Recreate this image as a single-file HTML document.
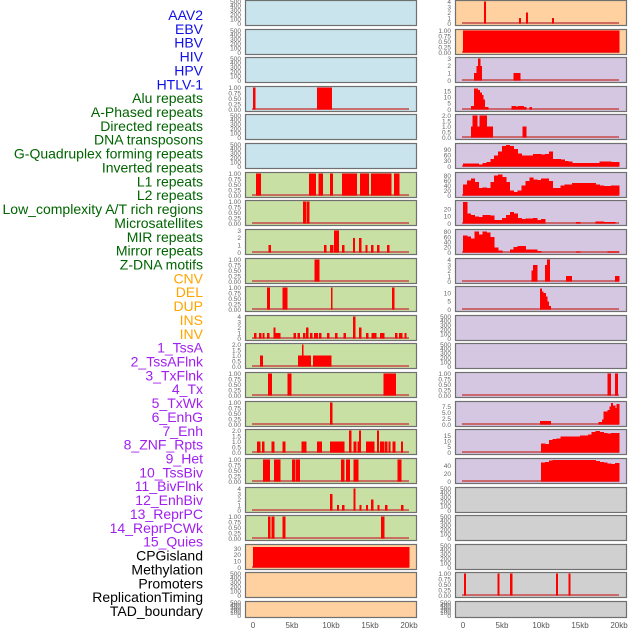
<!DOCTYPE html>
<html><head><meta charset="utf-8"><style>
html,body{margin:0;padding:0;background:#fff;width:630px;height:630px;overflow:hidden}
svg{display:block;font-family:"Liberation Sans",sans-serif}
</style></head><body>
<svg id="chart" width="630" height="630" viewBox="0 0 630 630" xmlns="http://www.w3.org/2000/svg"></svg>
<script>
// ---- data ----
const trackLabels=["AAV2","EBV","HBV","HIV","HPV","HTLV-1","Alu repeats","A-Phased repeats","Directed repeats","DNA transposons","G-Quadruplex forming repeats","Inverted repeats","L1 repeats","L2 repeats","Low_complexity A/T rich regions","Microsatellites","MIR repeats","Mirror repeats","Z-DNA motifs","CNV","DEL","DUP","INS","INV","1_TssA","2_TssAFlnk","3_TxFlnk","4_Tx","5_TxWk","6_EnhG","7_Enh","8_ZNF_Rpts","9_Het","10_TssBiv","11_BivFlnk","12_EnhBiv","13_ReprPC","14_ReprPCWk","15_Quies","CPGisland","Methylation","Promoters","ReplicationTiming","TAD_boundary"];
const labelColors=["#1010e8","#1010e8","#1010e8","#1010e8","#1010e8","#1010e8","#006400","#006400","#006400","#006400","#006400","#006400","#006400","#006400","#006400","#006400","#006400","#006400","#006400","#ffa500","#ffa500","#ffa500","#ffa500","#ffa500","#a020f0","#a020f0","#a020f0","#a020f0","#a020f0","#a020f0","#a020f0","#a020f0","#a020f0","#a020f0","#a020f0","#a020f0","#a020f0","#a020f0","#a020f0","#000","#000","#000","#000","#000"];
const xTickValues=[0,5,10,15,20];
const xTickLabels=["0","5kb","10kb","15kb","20kb"];
const E=[0,100,200,300,400,500], U=[0,0.25,0.5,0.75,1];
const leftTicks=[E,E,E,U,E,E,U,U,[0,1,2,3],U,U,[0,1,2,3,4],[0,0.5,1,1.5,2],U,U,[0,0.5,1,1.5,2],U,[0,1,2,3,4],U,[0,10,20,30],E,E];
const leftMax=[500,500,500,1,500,500,1,1,3,1,1,4,2,1,1,2,1,4,1,35,500,500];
const leftSegs=[[],[],[],
[[0,0.3,1],[8.2,10.1,1]],[],[],
[[0.4,1.0,1],[7.2,8.0,1],[8.4,8.9,1],[9.9,10.2,1],[11.4,12.1,1],[12.2,13.3,1],[13.7,14.8,1],[15.1,17.7,1],[18.1,18.7,1]],
[[6.4,6.8,1],[6.9,7.2,1]],
[[2.0,2.25,1],[9.1,9.35,1],[9.9,10.3,1],[10.4,11.0,3],[11.4,11.7,1],[12.8,13.05,2],[13.6,13.85,2],[14.4,14.65,1],[15.1,15.4,1],[15.9,16.15,1],[17.2,17.45,1]],
[[7.9,8.5,1]],
[[1.8,2.1,1],[3.8,4.4,1],[10.0,10.15,1],[17.8,18.1,1]],
[[0.15,0.4,1],[0.8,1.05,1],[1.2,1.45,1],[1.8,2.05,1],[2.6,2.85,2],[2.8,3.5,1],[5.2,5.45,1],[5.7,5.95,1],[6.4,6.65,1],[6.8,7.05,2],[7.3,7.55,1],[7.8,8.3,1],[8.45,8.7,1],[9.5,9.75,1],[10.5,10.75,1],[11.6,11.85,1],[12.8,13.1,4],[13.6,13.85,2],[14.5,14.75,1],[15.2,15.45,1],[15.5,15.75,1],[16.3,16.8,1],[18.2,18.45,1],[18.7,19.1,1],[19.4,19.65,1]],
[[0.9,1.2,1],[5.8,7.4,1],[6.3,6.45,2],[7.7,8.5,1],[8.5,10.0,1]],
[[1.9,2.4,1],[4.4,4.9,1],[16.7,18.3,1]],
[[9.9,10.15,1]],
[[0.5,0.9,1],[1.15,1.4,1],[2.4,2.7,1],[3.8,4.1,1],[6.2,6.4,1],[6.5,6.8,1],[8.2,8.8,1],[9.9,11.7,1],[12.3,12.6,2],[12.9,13.2,1],[13.4,13.8,1],[13.6,13.8,2],[14.5,15.5,1],[15.9,16.1,2],[16.3,16.8,1],[16.9,17.2,1],[17.4,17.6,1],[17.9,18.2,1],[19.0,19.2,1]],
[[1.3,2.1,1],[2.7,3.5,1],[5.0,5.4,1],[5.5,6.0,1],[11.3,11.7,1],[11.9,12.4,1],[12.9,13.5,1],[18.5,19.0,1]],
[[9.9,10.15,3],[10.8,11.0,1],[11.4,11.7,1],[12.9,13.1,4],[13.65,13.85,1],[14.5,14.7,1],[15.1,15.4,2],[15.95,16.15,1],[16.9,17.2,1],[19.0,19.25,1]],
[[1.9,2.2,1],[2.4,2.7,1],[3.8,4.1,1],[16.4,16.8,1]],
[[0,20,33]],[],[]];
const rightTicks=[[0,1,2,3,4],U,[0,1,2,3],[0,5,10,15],[0,0.5,1,1.5,2],[0,30,60,90],[0,20,40,60,80],[0,10,20],[0,20,40,60,80],[0,1,2,3,4],[0,5,10],E,E,U,[0,2.5,5,7.5],[0,5,10,15],[0,20,40],E,E,E,U,E];
const rightMax=[4,1,3,18,2,118,88,31,85,4,13.5,500,500,1,9.2,19.5,56,500,500,500,1,500];
const profileG4=[15,15,15,15,12,18,25,40,60,80,110,115,110,95,70,60,58,60,68,68,65,68,80,40,40,38,30,28,20,20,20,20,20,20,20,28,28,28,25,25];
const profileL2=[45,60,68,55,30,32,30,55,80,85,75,55,20,15,20,40,58,72,65,62,68,68,58,30,30,40,45,45,50,50,50,50,50,50,45,40,38,38,40,40];
const profileMicro=[30,14,12,10,9,12,12,11,5,5,8,12,16,14,8,6,7,7,8,5,6,0,0,0,0,0,0,0,0,2,0,0,0,0,3,3,2,2,2,0];
const profileMirror=[65,62,55,82,70,82,78,60,20,8,0,0,12,22,25,25,12,12,12,5,0,0,0,0,0,0,0,0,0,3,0,0,0,0,0,0,0,4,4,4];
const profileZNF=[8,7.5,11,12,12.5,14,14,14,14,14,15,15,16,18,19,18,17.5,17,17.5,17.5];
const profileHet=[48,50,54,55,55,55,55,55,55,55,55,55,55,55,52,50,48,46,45,47];
function bins(arr,start){return arr.map((v,i)=>[start+i*0.5,start+(i+1)*0.5,v]).filter(s=>s[2]>0);}
const rightSegs=[
[[2.7,2.9,4],[7.2,7.4,1],[8.1,8.3,2],[11.4,11.6,1]],
[[0,20,1]],
[[1.4,1.7,1],[1.7,1.9,2],[1.9,2.2,3],[2.2,2.4,2],[6.5,7.3,1]],
[[1.0,1.4,3],[1.4,1.9,17],[1.9,2.1,16],[2.1,2.4,14],[2.4,2.6,12],[2.6,2.8,8],[2.8,3.2,2],[6.2,6.8,3],[6.8,7.0,2],[7.0,7.8,3],[7.8,8.1,2],[8.5,8.8,2]],
[[1.0,1.2,1],[1.2,1.8,2],[1.8,2.1,1],[2.1,3.0,2],[3.0,3.8,1],[7.6,8.1,1]],
bins(profileG4,0),bins(profileL2,0),bins(profileMicro,0),bins(profileMirror,0),
[[8.8,9.0,2],[9.0,9.5,3],[10.5,10.8,3],[10.8,11.1,4],[13.2,13.9,1],[19.5,20,1]],
[[9.9,10.1,13],[10.1,10.3,11],[10.3,10.6,10],[10.6,10.8,8],[10.8,11.0,5],[11.0,11.2,2]],
[],[],
[[18.5,18.9,1],[19.5,19.8,1]],
[[9.9,11.2,1.5],[17.4,17.8,1],[17.8,18,2],[18,18.5,5.5],[18.5,18.8,6],[18.8,19,7.5],[19,19.2,9],[19.2,19.5,8],[19.5,19.7,7],[19.7,20,8.5]],
bins(profileZNF,10),bins(profileHet,10),
[],[],[],
[[0.15,0.35,1],[4.4,4.6,1],[6.0,6.3,1],[11.9,12.1,1],[13.5,13.7,1]],
[]];
// ---- drawing ----
const NS="http://www.w3.org/2000/svg", svg=document.getElementById('chart');
function el(tag,attrs,parent){const e=document.createElementNS(NS,tag);for(const k in attrs)e.setAttribute(k,attrs[k]);(parent||svg).appendChild(e);return e;}
const rowTops=[];for(let i=0;i<22;i++)rowTops.push(Math.round(i*28.62));
const leftBg=["#c9e4ec","#c9e4ec","#c9e4ec","#c9e4ec","#c9e4ec","#c9e4ec","#c9e0a5","#c9e0a5","#c9e0a5","#c9e0a5","#c9e0a5","#c9e0a5","#c9e0a5","#c9e0a5","#c9e0a5","#c9e0a5","#c9e0a5","#c9e0a5","#c9e0a5","#ffd0a0","#ffd0a0","#ffd0a0"];
const rightBg=["#ffd0a0","#ffd0a0","#d5c6e2","#d5c6e2","#d5c6e2","#d5c6e2","#d5c6e2","#d5c6e2","#d5c6e2","#d5c6e2","#d5c6e2","#d5c6e2","#d5c6e2","#d5c6e2","#d5c6e2","#d5c6e2","#d5c6e2","#d0d0d0","#d0d0d0","#d0d0d0","#d0d0d0","#d0d0d0"];
function fmt(t,ticks){const d=ticks.some(v=>Math.abs(v*4-Math.round(v*4))<1e-9&&v%0.5!==0)?2:(ticks.some(v=>v%1!==0)?1:0);return t.toFixed(d);}
function drawPanel(col,i,px,bg,ticks,max,segs){
  const top=rowTops[i], h=(i===21?16:25), w=171;
  const g=el('g',{});
  
  
  el('rect',{x:px+0.5,y:top+0.5,width:w,height:h,fill:bg,stroke:'#707070','stroke-width':1.2},g);
  const x0=px+8, x1=px+164;
  const xs=v=>x0+(x1-x0)*v/20;
  const yb=top+h-1.5, yt=top+1.5;
  const ys=v=>yb-(yb-yt)*v/max;
  if(segs.length) el('rect',{x:xs(0)-1,y:yb-1.5,width:xs(20)-xs(0)+1,height:2,fill:'#c85050',opacity:0.8},g);
  segs.forEach(s=>{const r=el('rect',{x:xs(s[0]),y:ys(s[2]),width:Math.max(1.5,xs(s[1])-xs(s[0])+0.4),height:yb-ys(s[2]),fill:'#ff0000','shape-rendering':'crispEdges'},g);
    
    });
  ticks.forEach(t=>{const tx=el('text',{x:px-4,y:ys(t)+2.3,'font-size':6.5,fill:'#666','text-anchor':'end'},g);tx.textContent=fmt(t,ticks);});
}
for(let i=0;i<22;i++){
  drawPanel('left',i,245,leftBg[i],leftTicks[i],leftMax[i],leftSegs[i]);
  drawPanel('right',i,455,rightBg[i],rightTicks[i],rightMax[i],rightSegs[i]);
}
trackLabels.forEach((t,k)=>{const tx=el('text',{x:203,y:20+k*13.86,'font-size':14,fill:labelColors[k],'text-anchor':'end'});tx.textContent=t;
  
  });
[245,455].forEach(px=>{xTickValues.forEach((v,j)=>{const tx=el('text',{x:px+8+156*v/20,y:628,'font-size':8,fill:'#555','text-anchor':'middle'});tx.textContent=xTickLabels[j];
  
  });});
</script>
</body></html>
